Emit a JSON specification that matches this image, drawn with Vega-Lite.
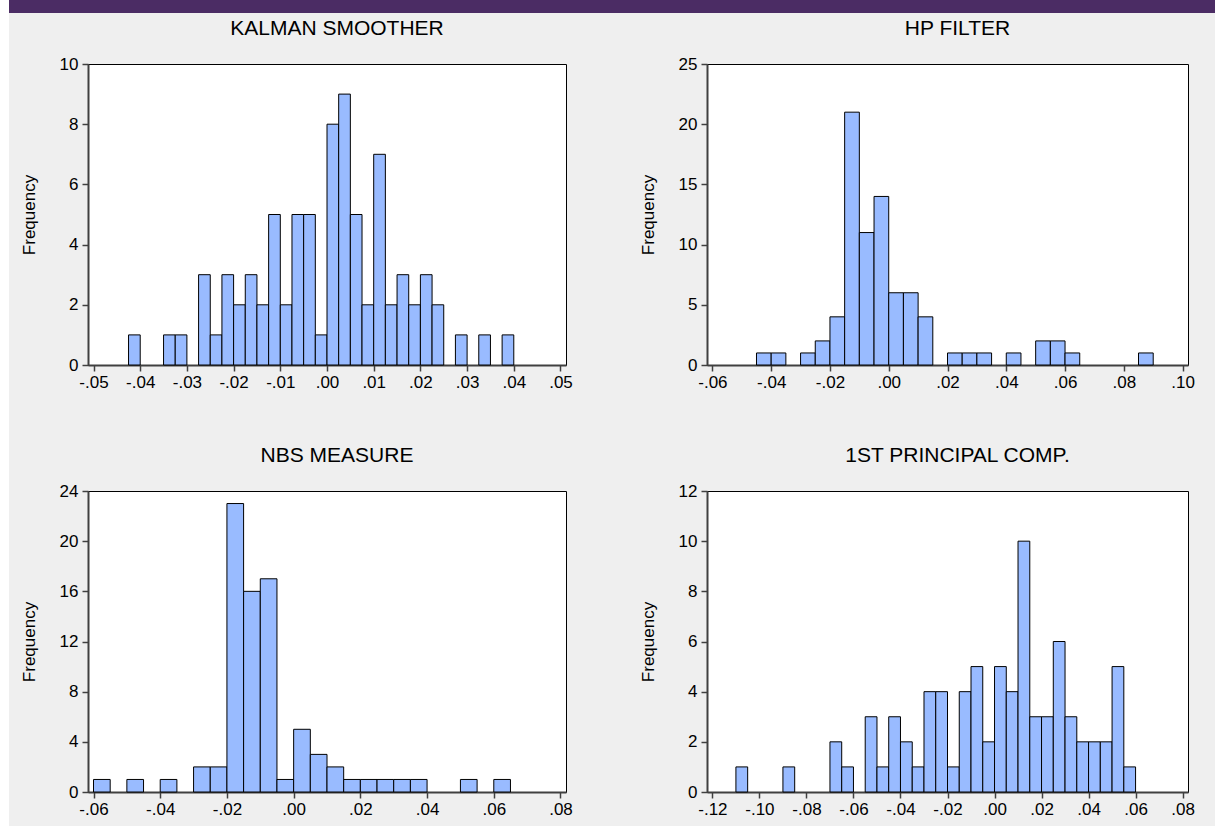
{
  "$schema": "https://vega.github.io/schema/vega-lite/v6.json",
  "background": "#efefef",
  "padding": 0,
  "datasets": {
    "kalman": [
      {"lo": -0.0425, "hi": -0.04, "n": 1},
      {"lo": -0.035, "hi": -0.0325, "n": 1},
      {"lo": -0.0325, "hi": -0.03, "n": 1},
      {"lo": -0.0275, "hi": -0.025, "n": 3},
      {"lo": -0.025, "hi": -0.0225, "n": 1},
      {"lo": -0.0225, "hi": -0.02, "n": 3},
      {"lo": -0.02, "hi": -0.0175, "n": 2},
      {"lo": -0.0175, "hi": -0.015, "n": 3},
      {"lo": -0.015, "hi": -0.0125, "n": 2},
      {"lo": -0.0125, "hi": -0.01, "n": 5},
      {"lo": -0.01, "hi": -0.0075, "n": 2},
      {"lo": -0.0075, "hi": -0.005, "n": 5},
      {"lo": -0.005, "hi": -0.0025, "n": 5},
      {"lo": -0.0025, "hi": 0.0, "n": 1},
      {"lo": 0.0, "hi": 0.0025, "n": 8},
      {"lo": 0.0025, "hi": 0.005, "n": 9},
      {"lo": 0.005, "hi": 0.0075, "n": 5},
      {"lo": 0.0075, "hi": 0.01, "n": 2},
      {"lo": 0.01, "hi": 0.0125, "n": 7},
      {"lo": 0.0125, "hi": 0.015, "n": 2},
      {"lo": 0.015, "hi": 0.0175, "n": 3},
      {"lo": 0.0175, "hi": 0.02, "n": 2},
      {"lo": 0.02, "hi": 0.0225, "n": 3},
      {"lo": 0.0225, "hi": 0.025, "n": 2},
      {"lo": 0.0275, "hi": 0.03, "n": 1},
      {"lo": 0.0325, "hi": 0.035, "n": 1},
      {"lo": 0.0375, "hi": 0.04, "n": 1}
    ],
    "hp": [
      {"lo": -0.045, "hi": -0.04, "n": 1},
      {"lo": -0.04, "hi": -0.035, "n": 1},
      {"lo": -0.03, "hi": -0.025, "n": 1},
      {"lo": -0.025, "hi": -0.02, "n": 2},
      {"lo": -0.02, "hi": -0.015, "n": 4},
      {"lo": -0.015, "hi": -0.01, "n": 21},
      {"lo": -0.01, "hi": -0.005, "n": 11},
      {"lo": -0.005, "hi": 0.0, "n": 14},
      {"lo": 0.0, "hi": 0.005, "n": 6},
      {"lo": 0.005, "hi": 0.01, "n": 6},
      {"lo": 0.01, "hi": 0.015, "n": 4},
      {"lo": 0.02, "hi": 0.025, "n": 1},
      {"lo": 0.025, "hi": 0.03, "n": 1},
      {"lo": 0.03, "hi": 0.035, "n": 1},
      {"lo": 0.04, "hi": 0.045, "n": 1},
      {"lo": 0.05, "hi": 0.055, "n": 2},
      {"lo": 0.055, "hi": 0.06, "n": 2},
      {"lo": 0.06, "hi": 0.065, "n": 1},
      {"lo": 0.085, "hi": 0.09, "n": 1}
    ],
    "nbs": [
      {"lo": -0.06, "hi": -0.055, "n": 1},
      {"lo": -0.05, "hi": -0.045, "n": 1},
      {"lo": -0.04, "hi": -0.035, "n": 1},
      {"lo": -0.03, "hi": -0.025, "n": 2},
      {"lo": -0.025, "hi": -0.02, "n": 2},
      {"lo": -0.02, "hi": -0.015, "n": 23},
      {"lo": -0.015, "hi": -0.01, "n": 16},
      {"lo": -0.01, "hi": -0.005, "n": 17},
      {"lo": -0.005, "hi": 0.0, "n": 1},
      {"lo": 0.0, "hi": 0.005, "n": 5},
      {"lo": 0.005, "hi": 0.01, "n": 3},
      {"lo": 0.01, "hi": 0.015, "n": 2},
      {"lo": 0.015, "hi": 0.02, "n": 1},
      {"lo": 0.02, "hi": 0.025, "n": 1},
      {"lo": 0.025, "hi": 0.03, "n": 1},
      {"lo": 0.03, "hi": 0.035, "n": 1},
      {"lo": 0.035, "hi": 0.04, "n": 1},
      {"lo": 0.05, "hi": 0.055, "n": 1},
      {"lo": 0.06, "hi": 0.065, "n": 1}
    ],
    "pc": [
      {"lo": -0.11, "hi": -0.105, "n": 1},
      {"lo": -0.09, "hi": -0.085, "n": 1},
      {"lo": -0.07, "hi": -0.065, "n": 2},
      {"lo": -0.065, "hi": -0.06, "n": 1},
      {"lo": -0.055, "hi": -0.05, "n": 3},
      {"lo": -0.05, "hi": -0.045, "n": 1},
      {"lo": -0.045, "hi": -0.04, "n": 3},
      {"lo": -0.04, "hi": -0.035, "n": 2},
      {"lo": -0.035, "hi": -0.03, "n": 1},
      {"lo": -0.03, "hi": -0.025, "n": 4},
      {"lo": -0.025, "hi": -0.02, "n": 4},
      {"lo": -0.02, "hi": -0.015, "n": 1},
      {"lo": -0.015, "hi": -0.01, "n": 4},
      {"lo": -0.01, "hi": -0.005, "n": 5},
      {"lo": -0.005, "hi": 0.0, "n": 2},
      {"lo": 0.0, "hi": 0.005, "n": 5},
      {"lo": 0.005, "hi": 0.01, "n": 4},
      {"lo": 0.01, "hi": 0.015, "n": 10},
      {"lo": 0.015, "hi": 0.02, "n": 3},
      {"lo": 0.02, "hi": 0.025, "n": 3},
      {"lo": 0.025, "hi": 0.03, "n": 6},
      {"lo": 0.03, "hi": 0.035, "n": 3},
      {"lo": 0.035, "hi": 0.04, "n": 2},
      {"lo": 0.04, "hi": 0.045, "n": 2},
      {"lo": 0.045, "hi": 0.05, "n": 2},
      {"lo": 0.05, "hi": 0.055, "n": 5},
      {"lo": 0.055, "hi": 0.06, "n": 1}
    ]
  },
  "config": {
    "font": "Liberation Sans",
    "view": {"stroke": "#000000", "strokeWidth": 1, "fill": "#ffffff"},
    "axis": {
      "grid": false,
      "domainColor": "#404040",
      "domainWidth": 2,
      "tickColor": "#404040",
      "tickWidth": 1.5,
      "tickSize": 6,
      "labelFont": "Liberation Sans",
      "labelFontSize": 17,
      "labelColor": "#000000",
      "titleFont": "Liberation Sans",
      "titleFontSize": 17,
      "titleFontWeight": "normal",
      "titleColor": "#000000"
    },
    "axisY": {"minExtent": 30, "maxExtent": 30, "titlePadding": 20, "labelPadding": 4},
    "axisX": {"labelPadding": 3, "labelExpr": "replace(replace(format(datum.value, '.2f'), '\u2212', '-'), '0.', '.')"},
    "title": {"fontSize": 21, "fontWeight": "normal", "font": "Liberation Sans", "color": "#000000", "offset": 16, "dx": 10}
  },
  "hconcat": [
    {
      "width": 9, "height": 826,
      "data": {"values": [{}]},
      "mark": {"type": "text", "text": ""},
      "encoding": {},
      "view": {"fill": "#ffffff", "stroke": null}
    },
    {
      "vconcat": [
        {
          "width": 1206, "height": 13,
          "data": {"values": [{}]},
          "mark": {"type": "text", "text": ""},
          "encoding": {},
          "view": {"fill": "#4b2c64", "stroke": null}
        },
        {
          "hconcat": [
            {
              "width": 10, "height": 1,
              "data": {"values": [{}]},
              "mark": {"type": "text", "text": ""},
              "encoding": {},
              "view": {"fill": "#efefef", "stroke": null}
            },
            {
              "vconcat": [
                {
                  "hconcat": [
                    {
                      "width": 478, "height": 301,
                      "data": {"name": "kalman"},
                      "title": "KALMAN SMOOTHER",
                      "mark": {"type": "rect", "fill": "#99bbff", "stroke": "#000000", "strokeWidth": 1},
                      "encoding": {
                        "x": {"field": "lo", "type": "quantitative", "scale": {"domain": [-0.05118, 0.05118], "nice": false, "zero": false}, "axis": {"title": null, "values": [-0.05, -0.04, -0.03, -0.02, -0.01, 0, 0.01, 0.02, 0.03, 0.04, 0.05]}},
                        "x2": {"field": "hi"},
                        "y": {"field": "n", "type": "quantitative", "scale": {"domain": [0, 10], "nice": false}, "axis": {"title": "Frequency", "values": [0, 2, 4, 6, 8, 10]}},
                        "y2": {"datum": 0}
                      }
                    },
                    {
                      "width": 481, "height": 301,
                      "data": {"name": "hp"},
                      "title": "HP FILTER",
                      "mark": {"type": "rect", "fill": "#99bbff", "stroke": "#000000", "strokeWidth": 1},
                      "encoding": {
                        "x": {"field": "lo", "type": "quantitative", "scale": {"domain": [-0.06184, 0.10184], "nice": false, "zero": false}, "axis": {"title": null, "values": [-0.06, -0.04, -0.02, 0, 0.02, 0.04, 0.06, 0.08, 0.1]}},
                        "x2": {"field": "hi"},
                        "y": {"field": "n", "type": "quantitative", "scale": {"domain": [0, 25], "nice": false}, "axis": {"title": "Frequency", "values": [0, 5, 10, 15, 20, 25]}},
                        "y2": {"datum": 0}
                      }
                    }
                  ],
                  "spacing": 65
                },
                {
                  "hconcat": [
                    {
                      "width": 478, "height": 301,
                      "data": {"name": "nbs"},
                      "title": "NBS MEASURE",
                      "mark": {"type": "rect", "fill": "#99bbff", "stroke": "#000000", "strokeWidth": 1},
                      "encoding": {
                        "x": {"field": "lo", "type": "quantitative", "scale": {"domain": [-0.06165, 0.08165], "nice": false, "zero": false}, "axis": {"title": null, "values": [-0.06, -0.04, -0.02, 0, 0.02, 0.04, 0.06, 0.08]}},
                        "x2": {"field": "hi"},
                        "y": {"field": "n", "type": "quantitative", "scale": {"domain": [0, 24], "nice": false}, "axis": {"title": "Frequency", "values": [0, 4, 8, 12, 16, 20, 24]}},
                        "y2": {"datum": 0}
                      }
                    },
                    {
                      "width": 481, "height": 301,
                      "data": {"name": "pc"},
                      "title": "1ST PRINCIPAL COMP.",
                      "mark": {"type": "rect", "fill": "#99bbff", "stroke": "#000000", "strokeWidth": 1},
                      "encoding": {
                        "x": {"field": "lo", "type": "quantitative", "scale": {"domain": [-0.1223, 0.0823], "nice": false, "zero": false}, "axis": {"title": null, "values": [-0.12, -0.1, -0.08, -0.06, -0.04, -0.02, 0, 0.02, 0.04, 0.06, 0.08]}},
                        "x2": {"field": "hi"},
                        "y": {"field": "n", "type": "quantitative", "scale": {"domain": [0, 12], "nice": false}, "axis": {"title": "Frequency", "values": [0, 2, 4, 6, 8, 10, 12]}},
                        "y2": {"datum": 0}
                      }
                    }
                  ],
                  "spacing": 65
                }
              ],
              "spacing": 53
            }
          ],
          "spacing": 0
        }
      ],
      "spacing": 4
    }
  ],
  "spacing": 0
}
